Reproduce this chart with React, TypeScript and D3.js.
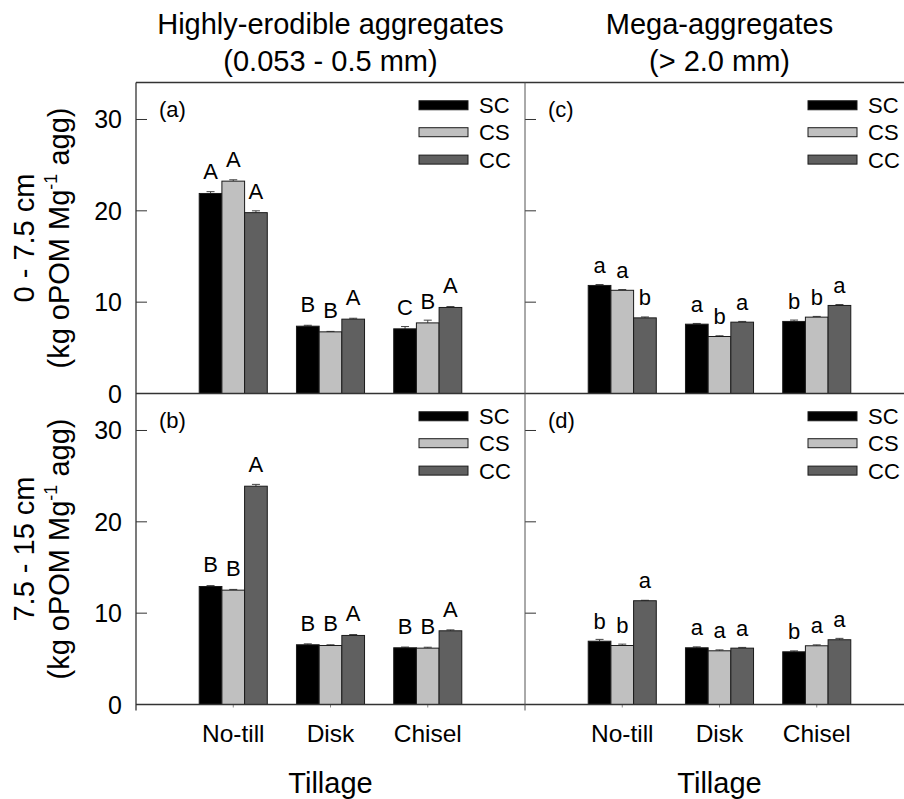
import React from 'react'
import * as d3 from 'd3'

const TILLAGE = ['No-till', 'Disk', 'Chisel']
const ROTATIONS = ['SC', 'CS', 'CC']
const FILLS = { SC: '#000000', CS: '#c0c0c0', CC: '#606060' }

// (a) 0-7.5 cm, highly-erodible
const A_SC = [21.9, 7.37, 7.08]
const A_CS = [23.25, 6.75, 7.73]
const A_CC = [19.8, 8.14, 9.42]
const A_SC_SE = [0.2, 0.1, 0.25]
const A_CS_SE = [0.15, 0.05, 0.3]
const A_CC_SE = [0.2, 0.1, 0.1]
const A_SC_L = ['A', 'B', 'C']
const A_CS_L = ['A', 'B', 'B']
const A_CC_L = ['A', 'A', 'A']

// (b) 7.5-15 cm, highly-erodible
const B_SC = [12.92, 6.54, 6.21]
const B_CS = [12.52, 6.46, 6.17]
const B_CC = [23.9, 7.56, 8.07]
const B_SC_SE = [0.1, 0.1, 0.08]
const B_CS_SE = [0.08, 0.08, 0.1]
const B_CC_SE = [0.2, 0.1, 0.1]
const B_SC_L = ['B', 'B', 'B']
const B_CS_L = ['B', 'B', 'B']
const B_CC_L = ['A', 'A', 'A']

// (c) 0-7.5 cm, mega
const C_SC = [11.83, 7.59, 7.89]
const C_CS = [11.3, 6.24, 8.36]
const C_CC = [8.28, 7.81, 9.64]
const C_SC_SE = [0.1, 0.08, 0.15]
const C_CS_SE = [0.08, 0.08, 0.08]
const C_CC_SE = [0.1, 0.08, 0.1]
const C_SC_L = ['a', 'a', 'b']
const C_CS_L = ['a', 'b', 'b']
const C_CC_L = ['b', 'a', 'a']

// (d) 7.5-15 cm, mega
const D_SC = [6.93, 6.21, 5.77]
const D_CS = [6.46, 5.88, 6.43]
const D_CC = [11.36, 6.17, 7.09]
const D_SC_SE = [0.2, 0.1, 0.1]
const D_CS_SE = [0.15, 0.1, 0.1]
const D_CC_SE = [0.05, 0.08, 0.15]
const D_SC_L = ['b', 'a', 'b']
const D_CS_L = ['b', 'a', 'a']
const D_CC_L = ['a', 'a', 'a']

const Y_TICKS = [0, 10, 20, 30]
const COL_TITLES = [['Highly-erodible aggregates', '(0.053 - 0.5 mm)'], ['Mega-aggregates', '(> 2.0 mm)']]
const ROW_TITLES = ['0 - 7.5 cm', '7.5 - 15 cm']
const PANEL_TAGS = [['(a)', '(c)'], ['(b)', '(d)']]

const PANELS = [
  [
    { means: [A_SC, A_CS, A_CC], se: [A_SC_SE, A_CS_SE, A_CC_SE], letters: [A_SC_L, A_CS_L, A_CC_L] },
    { means: [C_SC, C_CS, C_CC], se: [C_SC_SE, C_CS_SE, C_CC_SE], letters: [C_SC_L, C_CS_L, C_CC_L] },
  ],
  [
    { means: [B_SC, B_CS, B_CC], se: [B_SC_SE, B_CS_SE, B_CC_SE], letters: [B_SC_L, B_CS_L, B_CC_L] },
    { means: [D_SC, D_CS, D_CC], se: [D_SC_SE, D_CS_SE, D_CC_SE], letters: [D_SC_L, D_CS_L, D_CC_L] },
  ],
]

const W = 904
const H = 799
const LEFT = 136
const TOP = 82.5
const PW = 389
const PH = 311
const Y_MAX = 34.05
const BAR_U = 0.2333
const FONT = '"Liberation Sans", Arial, Helvetica, sans-serif'
const AXIS = '#333'

function Panel({ row, col }) {
  const p = PANELS[row][col]
  const x0 = LEFT + col * PW
  const y0 = TOP + row * PH
  const x = d3.scaleLinear().domain([0, 4]).range([x0, x0 + PW])
  const y = d3.scaleLinear().domain([0, Y_MAX]).range([y0 + PH, y0])
  const bw = x(BAR_U) - x(0)
  const legY = [32.05, 29.1, 26.1]

  return (
    <g>
      {/* y ticks, inward */}
      {Y_TICKS.slice(1).map(t => (
        <line key={t} x1={x0} x2={x0 + 11} y1={y(t)} y2={y(t)} stroke={AXIS} strokeWidth={1} />
      ))}
      {col === 0 && Y_TICKS.map(t => (
        <text key={t} x={x0 - 14} y={y(t)} dy="0.36em" textAnchor="end" fontSize={25} fill="#000">{t}</text>
      ))}

      {/* bars */}
      {TILLAGE.map((tl, i) => ROTATIONS.map((r, k) => {
        const v = p.means[k][i]
        const e = p.se[k][i]
        const cx = x(i + 1) + (k - 1) * bw
        const upper = p.letters[k][i] === p.letters[k][i].toUpperCase()
        return (
          <g key={tl + r}>
            <line x1={cx} x2={cx} y1={y(v)} y2={y(v + e)} stroke="#444" strokeWidth={1} />
            <line x1={cx - 4} x2={cx + 4} y1={y(v + e)} y2={y(v + e)} stroke="#444" strokeWidth={1} />
            <rect x={cx - bw / 2} y={y(v)} width={bw} height={y(0) - y(v)}
              fill={FILLS[r]} stroke="#1a1a1a" strokeWidth={1} />
            <text x={cx} y={y(v) - (upper ? 14 : 12.5)} textAnchor="middle" fontSize={22}>{p.letters[k][i]}</text>
          </g>
        )
      }))}

      {/* legend */}
      {ROTATIONS.map((r, k) => (
        <g key={r}>
          <rect x={x0 + 283} y={y(legY[k])} width={49} height={9} fill={FILLS[r]} stroke="#1a1a1a" strokeWidth={1} />
          <text x={x0 + 343} y={y(legY[k]) + 4.5} dy="0.36em" fontSize={22}>{r}</text>
        </g>
      ))}

      <text x={x0 + 23} y={y(32.2)} dy="0.78em" fontSize={22}>{PANEL_TAGS[row][col]}</text>

      {/* x ticks */}
      {row === 1 && TILLAGE.map((tl, i) => (
        <g key={tl}>
          <line x1={x(i + 1)} x2={x(i + 1)} y1={y(0)} y2={y(0) + 3} stroke="#888" strokeWidth={1} />
          <text x={x(i + 1)} y={y(0) + 37.5} textAnchor="middle" fontSize={24.5}>{tl}</text>
        </g>
      ))}
    </g>
  )
}

export default function App() {
  const bottom = TOP + 2 * PH
  return (
    <svg width={W} height={H} style={{ position: 'absolute', left: 0, top: 0, background: '#fff' }}
      fontFamily={FONT}>
      <rect width={W} height={H} fill="#fff" />
      {[0, 1].map(r => [0, 1].map(c => <Panel key={`${r}-${c}`} row={r} col={c} />))}

      {/* frame lines */}
      <line x1={LEFT} x2={W} y1={TOP} y2={TOP} stroke={AXIS} strokeWidth={1.3} />
      <line x1={LEFT} x2={W} y1={TOP + PH} y2={TOP + PH} stroke={AXIS} strokeWidth={1.3} />
      <line x1={LEFT} x2={W} y1={bottom} y2={bottom} stroke={AXIS} strokeWidth={1.3} />
      <line x1={LEFT} x2={LEFT} y1={TOP} y2={bottom + 6} stroke={AXIS} strokeWidth={1.3} />
      <line x1={LEFT + PW} x2={LEFT + PW} y1={TOP} y2={bottom + 6} stroke="#555" strokeWidth={1} />

      {/* column titles */}
      {COL_TITLES.map((t, c) => (
        <text key={c} x={LEFT + c * PW + PW / 2} textAnchor="middle" fontSize={29}>
          <tspan x={LEFT + c * PW + PW / 2} y={33.5}>{t[0]}</tspan>
          <tspan x={LEFT + c * PW + PW / 2} y={71}>{t[1]}</tspan>
        </text>
      ))}

      {/* row titles */}
      {ROW_TITLES.map((t, r) => {
        const cy = TOP + r * PH + PH / 2
        return (
          <g key={r} transform={`translate(0,${cy}) rotate(-90)`}>
            <text x={0} y={33.5} textAnchor="middle" fontSize={29}>{t}</text>
            <text x={0} y={68.5} textAnchor="middle" fontSize={29}>
              (kg oPOM Mg<tspan dy={-12} fontSize={18}>-1</tspan><tspan dy={12}>{'\u00a0'}agg)</tspan>
            </text>
          </g>
        )
      })}

      {/* x titles */}
      {[0, 1].map(c => (
        <text key={c} x={LEFT + c * PW + PW / 2} y={793} textAnchor="middle" fontSize={29}>Tillage</text>
      ))}
    </svg>
  )
}
